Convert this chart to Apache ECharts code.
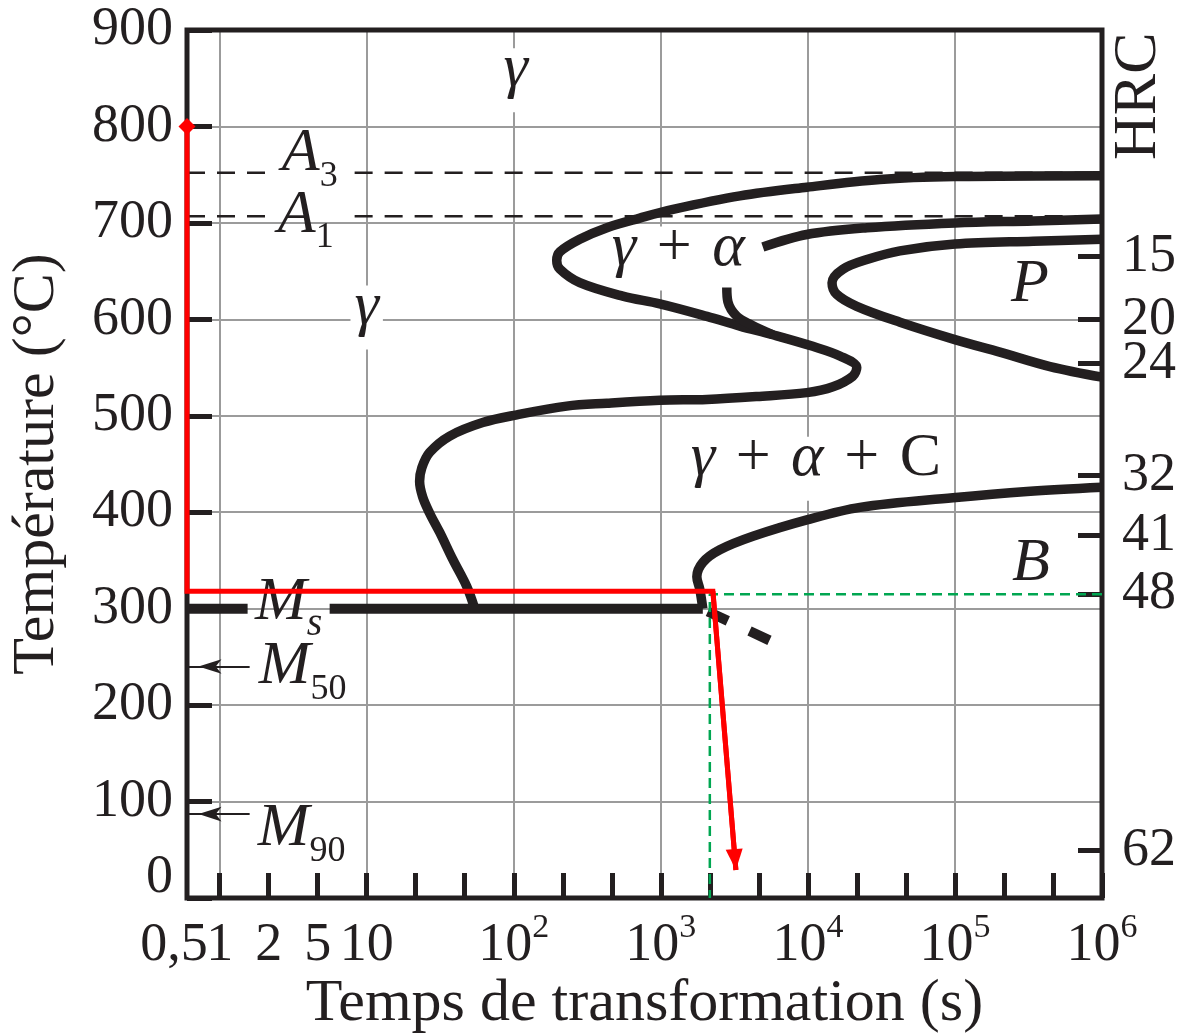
<!DOCTYPE html>
<html>
<head>
<meta charset="utf-8">
<script src="https://cdn.jsdelivr.net/npm/echarts@6/dist/echarts.min.js"></script>
<style>html,body{margin:0;padding:0;background:#fff;}#chart{width:1184px;height:1036px;}</style>
</head>
<body>
<div id="chart"></div>
<script>
// ---------------- data ----------------
const xMin = 0.6, xMax = 1e6;          // transformation time, s (log)
const yMin = 0, yMax = 900;            // temperature, °C

// ferrite start curve (outer S-shaped curve)
const ferriteStartTime = [1000000, 100000, 30900, 9840, 3450, 1210, 720, 430, 281, 206, 196, 206, 281, 551, 985, 2060, 3450, 5780, 10800, 16500, 21500, 20200, 14800, 9840, 4500, 2060, 985, 430, 229, 105, 61.5, 36.7, 26.8, 23.7, 22.9, 24.0, 26.8, 31.4, 38.5, 47.9, 54.3];
const ferriteStartTemp = [749, 748, 745, 737, 728, 714, 705, 695, 683, 670, 661, 652, 638, 624, 616, 603, 593, 584, 572, 562, 550, 541, 530, 524, 520, 517, 516, 513, 510, 501, 493, 479, 462, 446, 432, 416, 399, 379, 351, 323, 300];

// upper gamma+alpha boundary curve
const upperCurveTime = [4940, 9840, 25200, 100000, 340000, 1000000];
const upperCurveTemp = [675, 688, 695, 700, 702, 704];

// short hook below the gamma+alpha label
const hookTime = [2810, 2860, 3290, 4160, 5780];
const hookTemp = [633, 618, 603, 594, 584];

// pearlite start curve
const pearliteTime = [1000000, 340000, 100000, 42300, 25200, 17300, 14600, 15700, 21500, 42300, 100000, 202000, 443000, 1000000];
const pearliteTemp = [683, 681, 678, 671, 662, 652, 638, 626, 613.5, 597, 579, 566, 551, 540];

// bainite start curve
const bainiteTime = [1930, 1842, 1758, 1932, 2520, 4230, 9840, 22600, 96900, 309000, 1000000];
const bainiteTemp = [300, 320, 333, 348, 361, 375, 392, 405, 415, 421.5, 426];

// Ms line and its dashed continuation
const msTemp = 300;
const msLeftTime = [0.6, 1.55];
const msRightTime = [5.6, 1930];
const msDashTime = [2089, 5870];
const msDashTemp = [297, 265];

// A3 / A1 dashed levels
const a3Temp = 752, a1Temp = 707;
const aLeftTime = [0.6, 2.09];
const aRightTime = [8.28, 1000000];

// M50 / M90 arrows
const m50Temp = 240, m90Temp = 87;
const mArrowTime = [1.6, 0.6];

// cooling path (red)
const coolTime = [0.6, 0.6, 2260, 3240];
const coolTemp = [800, 318, 318, 29];

// reading lines (green)
const readTime = [1000000, 2154, 2154];
const readTemp = [315, 315, 0];

// HRC scale (right)
const hrcValues = [15, 20, 24, 32, 41, 48, 62];
const hrcTemps = [665, 600, 554, 438, 376, 315, 49];

// x tick marks (every third of a decade, log10 units) and labels
const xTickLog = [0, 1, 2, 3, 4, 5, 6, 7, 8, 9, 10, 11, 12, 13, 14, 15, 16, 17, 18].map(k => k / 3);
const xLabelLog = [0, 1 / 3, 2 / 3, 1, 2, 3, 4, 5, 6, Math.log10(xMin)];
const xLabelText = ['1', '2', '5', '10', '10^2', '10^3', '10^4', '10^5', '10^6', '0,5'];

// annotations
const annoText = ['γ', 'γ', 'γ + α', 'P', 'γ + α + C', 'B', 'A_3', 'A_1', 'M_s', 'M_50', 'M_90'];
const annoTime = [103, 10, 1315, 323600, 11330, 328800, 4.10, 3.85, 2.95, 3.67, 3.61];
const annoTemp = [848, 602, 663, 626, 445, 336, 761, 697, 296, 229, 61];
const annoMasked = [0, 1, 2, 4];

// ---------------- chart ----------------
const SERIF = '"Liberation Serif", "Times New Roman", serif';
const INK = '#231f20';
const GRIDC = '#9b9b9b';
const RED = '#ff0000';
const GREEN = '#00a651';

const pts = (ts, Ts) => ts.map((t, i) => [t, Ts[i]]);
const flat = (ts, T) => ts.map(t => [t, T]);

function curve(name, data, extra) {
  return Object.assign({
    name, type: 'line', data, smooth: 0.35, showSymbol: false, symbol: 'none',
    clip: false, z: 3, silent: true, animation: false,
    lineStyle: { color: INK, width: 9.5, cap: 'butt', join: 'round' }
  }, extra || {});
}

function toRich(txt) {
  const parts = txt.split('_');
  let out = parts[0].replace(/[γαPBAM]/g, m => '{i|' + m + '}').replace(/\+/g, '{p|+}');
  if (parts[1]) out += /\d/.test(parts[1]) ? '{sub|' + parts[1] + '}' : '{isub|' + parts[1] + '}';
  return out;
}

const annoRich = {
  i: { fontFamily: SERIF, fontStyle: 'italic', fontSize: 62, lineHeight: 44, color: INK },
  p: { fontFamily: SERIF, fontSize: 62, lineHeight: 44, color: INK, padding: [0, 5, 0, 5] },
  sub: { fontFamily: SERIF, fontSize: 36, lineHeight: 36, padding: [44, 0, 0, 0], color: INK },
  isub: { fontFamily: SERIF, fontStyle: 'italic', fontSize: 40, lineHeight: 40, padding: [43, 0, 0, 0], color: INK }
};

const annoData = annoText.map((txt, i) => {
  const item = { value: [annoTime[i], annoTemp[i]], text: toRich(txt) };
  if (annoMasked.indexOf(i) >= 0) item.label = { backgroundColor: '#ffffff' };
  return item;
});

const coolData = pts(coolTime, coolTemp).map((p, i) => i === 0 ? { value: p, symbol: 'diamond', symbolSize: [17, 17] } : { value: p });

const option = {
  animation: false,
  backgroundColor: '#ffffff',
  grid: { left: 187, right: 82, top: 30, bottom: 138, show: true, borderColor: INK, borderWidth: 5, backgroundColor: 'transparent', z: 1, outerBoundsMode: 'none' },
  xAxis: [
    {
      type: 'log', logBase: 10, min: xMin, max: xMax, position: 'bottom',
      axisLine: { show: false, onZero: false }, axisTick: { show: false }, axisLabel: { show: false },
      minorTick: { show: false },
      splitLine: { show: true, lineStyle: { color: GRIDC, width: 2 } },
      name: 'Temps de transformation (s)', nameLocation: 'middle', nameGap: 76, nameMoveOverlap: false,
      nameTextStyle: { fontFamily: SERIF, fontSize: 60, color: INK }
    },
    {
      type: 'value', min: Math.log10(xMin), max: 6, position: 'bottom',
      axisLine: { show: false, onZero: false }, splitLine: { show: false },
      axisTick: { show: true, inside: true, length: 25, customValues: xTickLog, lineStyle: { color: INK, width: 5 } },
      axisLabel: {
        show: true, customValues: xLabelLog, margin: 12, showMinLabel: true, showMaxLabel: true, hideOverlap: false,
        fontFamily: SERIF, fontSize: 54, color: INK, lineHeight: 72,
        formatter: v => {
          const idx = xLabelLog.findIndex(p => Math.abs(p - v) < 1e-6);
          if (idx < 0) return '';
          const s = xLabelText[idx];
          if (s === '0,5') return '{l|' + s + '}';
          const m = s.split('^');
          return m.length > 1 ? m[0] + '{sup|' + m[1] + '}' : s;
        },
        rich: {
          sup: { fontFamily: SERIF, fontSize: 34, lineHeight: 36, padding: [0, 0, 36, 0], color: INK },
          l: { fontFamily: SERIF, fontSize: 54, lineHeight: 72, padding: [0, 26, 0, 0], color: INK }
        }
      }
    }
  ],
  yAxis: [
    {
      type: 'value', min: yMin, max: yMax, interval: 100, position: 'left',
      axisLine: { show: false, onZero: false },
      axisTick: { show: true, inside: true, length: 25, lineStyle: { color: INK, width: 5 } },
      splitLine: { show: true, lineStyle: { color: GRIDC, width: 2 } },
      axisLabel: {
        fontFamily: SERIF, fontSize: 54, color: INK, margin: 14, showMinLabel: true, showMaxLabel: true,
        formatter: v => v === 0 ? '{z|0}' : String(v),
        rich: { z: { fontFamily: SERIF, fontSize: 54, color: INK, padding: [0, 0, 40, 0] } }
      },
      name: 'Température (°C)', nameLocation: 'middle', nameGap: 120, nameMoveOverlap: false,
      nameTextStyle: { fontFamily: SERIF, fontSize: 60, color: INK }
    },
    {
      type: 'value', min: yMin, max: yMax, position: 'right',
      axisLine: { show: false, onZero: false }, splitLine: { show: false },
      axisTick: { show: true, inside: true, length: 24, customValues: hrcTemps, lineStyle: { color: INK, width: 5 } },
      axisLabel: {
        show: true, customValues: hrcTemps, margin: 20, fontFamily: SERIF, fontSize: 54, color: INK,
        showMinLabel: true, showMaxLabel: true,
        formatter: v => { const i = hrcTemps.findIndex(t => Math.abs(t - v) < 0.5); return i < 0 ? '' : String(hrcValues[i]); }
      },
      name: 'HRC', nameLocation: 'end', nameRotate: 90, nameGap: -130, nameMoveOverlap: false,
      nameTextStyle: { fontFamily: SERIF, fontSize: 62, color: INK, align: 'left', verticalAlign: 'top', padding: [6, 0, 0, 0] }
    }
  ],
  series: [
    {
      name: 'labels', type: 'scatter', z: 2, silent: true, symbolSize: 1,
      itemStyle: { color: 'rgba(0,0,0,0)', opacity: 1 },
      label: {
        show: true, position: 'inside', formatter: p => p.data.text,
        fontFamily: SERIF, fontSize: 62, lineHeight: 44, color: INK, padding: [0, 4, 20, 4],
        rich: annoRich
      },
      data: annoData
    },
    {
      name: 'A3', type: 'line', data: flat(aLeftTime, a3Temp), showSymbol: false, symbol: 'none', z: 2, clip: false, silent: true,
      lineStyle: { color: INK, width: 2.5, type: [18, 12] }
    },
    {
      name: 'A3b', type: 'line', data: flat(aRightTime, a3Temp), showSymbol: false, symbol: 'none', z: 2, clip: false, silent: true,
      lineStyle: { color: INK, width: 2.5, type: [18, 12] }
    },
    {
      name: 'A1', type: 'line', data: flat(aLeftTime, a1Temp), showSymbol: false, symbol: 'none', z: 2, clip: false, silent: true,
      lineStyle: { color: INK, width: 2.5, type: [18, 12] }
    },
    {
      name: 'A1b', type: 'line', data: flat(aRightTime, a1Temp), showSymbol: false, symbol: 'none', z: 2, clip: false, silent: true,
      lineStyle: { color: INK, width: 2.5, type: [18, 12] }
    },
    curve('ferrite start', pts(ferriteStartTime, ferriteStartTemp)),
    curve('upper', pts(upperCurveTime, upperCurveTemp)),
    curve('hook', pts(hookTime, hookTemp)),
    curve('pearlite', pts(pearliteTime, pearliteTemp)),
    curve('bainite', pts(bainiteTime, bainiteTemp)),
    curve('Ms left', flat(msLeftTime, msTemp), {
      smooth: false, lineStyle: { color: INK, width: 10, cap: 'butt' },
      markLine: {
        silent: true, animation: false,
        symbol: ['none', 'arrow'], symbolSize: [11, 23], symbolOffset: [0, [0, 11.5]],
        label: { show: false },
        lineStyle: { color: INK, width: 2.2, type: 'solid' },
        emphasis: { disabled: true },
        data: [
          [{ coord: [mArrowTime[0], m50Temp] }, { coord: [mArrowTime[1], m50Temp] }],
          [{ coord: [mArrowTime[0], m90Temp] }, { coord: [mArrowTime[1], m90Temp] }]
        ]
      }
    }),
    curve('Ms right', flat(msRightTime, msTemp), { smooth: false, lineStyle: { color: INK, width: 10, cap: 'butt' } }),
    curve('Ms dashed', pts(msDashTime, msDashTemp), { smooth: false, lineStyle: { color: INK, width: 10, cap: 'butt', type: [22, 24] } }),
    {
      name: 'reading', type: 'line', data: pts(readTime, readTemp), showSymbol: false, symbol: 'none', z: 4, clip: false, silent: true,
      lineStyle: { color: GREEN, width: 2.5, type: [10, 6] }
    },
    {
      name: 'cooling', type: 'line', data: coolData, showSymbol: true, symbol: 'none', z: 6, clip: false, silent: true,
      itemStyle: { color: RED }, lineStyle: { color: RED, width: 5, join: 'miter', cap: 'butt' },
      markLine: {
        silent: true, animation: false,
        symbol: ['none', 'triangle'], symbolSize: [17, 21], symbolOffset: [0, [0, 10.5]],
        label: { show: false },
        lineStyle: { color: RED, width: 5, type: 'solid' },
        emphasis: { disabled: true },
        data: [[{ coord: [coolTime[2], coolTemp[2]] }, { coord: [coolTime[3], coolTemp[3]] }]]
      }
    }
  ]
};

const chart = echarts.init(document.getElementById('chart'), null, { renderer: 'canvas' });
chart.setOption(option);
</script>
</body>
</html>
